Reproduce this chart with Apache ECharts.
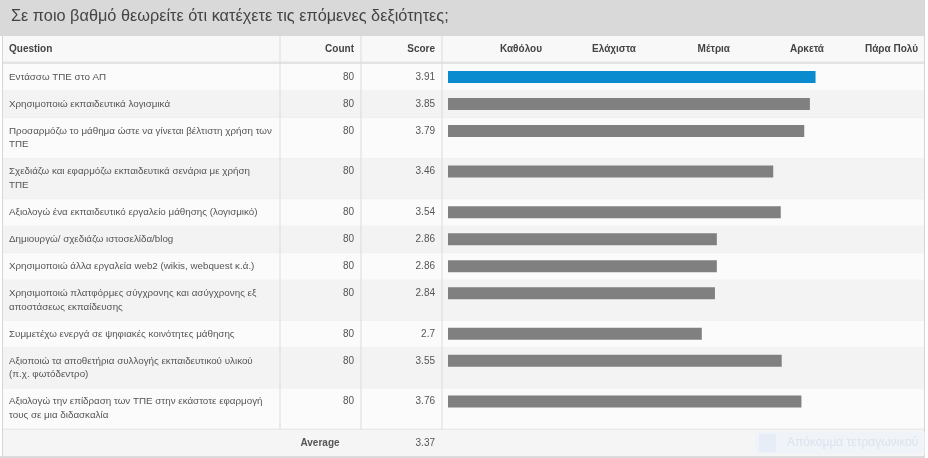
<!DOCTYPE html>
<html>
<head>
<meta charset="utf-8">
<script src="https://cdn.jsdelivr.net/npm/echarts@6/dist/echarts.min.js"></script>
<style>html,body{margin:0;padding:0;background:#fff}#c{width:928px;height:458px}</style>
</head>
<body>
<div id="c"></div>
<script>
var titleText = 'Σε ποιο βαθμό θεωρείτε ότι κατέχετε τις επόμενες δεξιότητες;';
var headers = ['Question', 'Count', 'Score'];
var scaleLabels = ['Καθόλου', 'Ελάχιστα', 'Μέτρια', 'Αρκετά', 'Πάρα Πολύ'];
var questions = [
  'Εντάσσω ΤΠΕ στο ΑΠ',
  'Χρησιμοποιώ εκπαιδευτικά λογισμικά',
  'Προσαρμόζω το μάθημα ώστε να γίνεται βέλτιστη χρήση των\nΤΠΕ',
  'Σχεδιάζω και εφαρμόζω εκπαιδευτικά σενάρια με χρήση\nΤΠΕ',
  'Αξιολογώ ένα εκπαιδευτικό εργαλείο μάθησης (λογισμικό)',
  'Δημιουργώ/ σχεδιάζω ιστοσελίδα/blog',
  'Χρησιμοποιώ άλλα εργαλεία web2 (wikis, webquest κ.ά.)',
  'Χρησιμοποιώ πλατφόρμες σύγχρονης και ασύγχρονης εξ\nαποστάσεως εκπαίδευσης',
  'Συμμετέχω ενεργά σε ψηφιακές κοινότητες μάθησης',
  'Αξιοποιώ τα αποθετήρια συλλογής εκπαιδευτικού υλικού\n(π.χ. φωτόδεντρο)',
  'Αξιολογώ την επίδραση των ΤΠΕ στην εκάστοτε εφαρμογή\nτους σε μια διδασκαλία'
];
var counts = [80, 80, 80, 80, 80, 80, 80, 80, 80, 80, 80];
var scores = [3.91, 3.85, 3.79, 3.46, 3.54, 2.86, 2.86, 2.84, 2.7, 3.55, 3.76];
var averageLabel = 'Average';
var averageScore = 3.37;
var watermark = 'Απόκομμα τετραγωνικού';

var FONT = '"Liberation Sans", Arial, sans-serif';
var TOP = 64, LINE = 13.6, PAD = 13.4;
var rowH = questions.map(function (q) { return PAD + LINE * q.split('\n').length; });
var rowTops = [];
var acc = 0;
rowH.forEach(function (h) { rowTops.push(acc); acc += h; });
var H = acc;
var tableBottom = TOP + H;

var chart = echarts.init(document.getElementById('c'), null, {renderer: 'canvas'});

function tableRow(params, api) {
  var i = params.dataIndex;
  var y0 = api.coord([0, rowTops[i]])[1];
  var y1 = api.coord([0, rowTops[i] + rowH[i]])[1];
  var lines = questions[i].split('\n');
  var children = [{
    type: 'rect', shape: {x: 3, y: y0, width: 921, height: y1 - y0},
    style: {fill: i % 2 === 0 ? '#fbfbfb' : '#f3f3f3'}
  }, {
    type: 'rect', shape: {x: 3, y: y1 - 0.5, width: 921, height: 1},
    style: {fill: '#ececec'}
  }];
  lines.forEach(function (ln, k) {
    children.push({
      type: 'text', x: 9, y: y0 + 13 + k * LINE,
      style: {text: ln, fill: '#555', font: '9.8px ' + FONT, verticalAlign: 'middle', align: 'left'}
    });
  });
  children.push({
    type: 'text', x: 354, y: y0 + 13,
    style: {text: String(counts[i]), fill: '#555', font: '10px ' + FONT, verticalAlign: 'middle', align: 'right'}
  });
  children.push({
    type: 'text', x: 435, y: y0 + 13,
    style: {text: String(scores[i]), fill: '#555', font: '10px ' + FONT, verticalAlign: 'middle', align: 'right'}
  });
  return {type: 'group', children: children};
}

function barItem(params, api) {
  var v = api.value(0), yc = api.value(1);
  var s = api.coord([0, yc]);
  var e = api.coord([v, yc]);
  return {
    type: 'rect',
    shape: {x: s[0], y: s[1] - 6, width: e[0] - s[0], height: 12},
    style: {fill: params.dataIndex === 0 ? '#0b8bcf' : '#808080'}
  };
}

var graphics = [
  {type: 'rect', shape: {x: 0, y: 0, width: 925, height: 36}, style: {fill: '#d9d9d9'}, z: 0},
  {type: 'text', x: 11, y: 17, style: {text: titleText, fill: '#444', font: '16.3px ' + FONT, verticalAlign: 'middle'}},
  {type: 'rect', shape: {x: 3, y: 36, width: 921, height: 26}, style: {fill: '#f8f8f8'}},
  {type: 'rect', shape: {x: 3, y: 61.5, width: 921, height: 2.5}, style: {fill: '#e3e3e3'}},
  {type: 'text', x: 9, y: 49, style: {text: headers[0], fill: '#444', font: 'bold 10px ' + FONT, verticalAlign: 'middle'}},
  {type: 'text', x: 354, y: 49, style: {text: headers[1], fill: '#444', font: 'bold 10px ' + FONT, verticalAlign: 'middle', align: 'right'}},
  {type: 'text', x: 435, y: 49, style: {text: headers[2], fill: '#444', font: 'bold 10px ' + FONT, verticalAlign: 'middle', align: 'right'}},
  {type: 'rect', shape: {x: 2, y: 36, width: 1, height: 422}, style: {fill: '#d6d6d6'}},
  {type: 'rect', shape: {x: 924, y: 0, width: 1, height: 458}, style: {fill: '#d6d6d6'}},
  {type: 'rect', shape: {x: 3, y: tableBottom, width: 921, height: 27}, style: {fill: '#f5f5f5'}},
  {type: 'rect', shape: {x: 3, y: tableBottom - 0.5, width: 921, height: 1}, style: {fill: '#dcdcdc'}},
  {type: 'rect', shape: {x: 0, y: tableBottom + 27, width: 925, height: 3}, style: {fill: '#dadada'}},
  {type: 'text', x: 320, y: tableBottom + 14, style: {text: averageLabel, fill: '#555', font: 'bold 10px ' + FONT, verticalAlign: 'middle', align: 'center'}},
  {type: 'text', x: 435, y: tableBottom + 14, style: {text: String(averageScore), fill: '#555', font: '10px ' + FONT, verticalAlign: 'middle', align: 'right'}},
  {type: 'rect', shape: {x: 755, y: 432, width: 170, height: 22}, style: {fill: '#edf2f9', opacity: 0.6}, z: 50},
  {type: 'rect', shape: {x: 759, y: 434, width: 17, height: 18}, style: {fill: '#e3eaf5', opacity: 0.7}, z: 51},
  {type: 'text', x: 787, y: 443, style: {text: watermark, fill: '#dae3ef', font: '12px ' + FONT, verticalAlign: 'middle'}, z: 51}
];
[280, 361, 442].forEach(function (x) {
  graphics.push({type: 'rect', shape: {x: x - 0.5, y: 36, width: 1, height: tableBottom - 36}, style: {fill: '#dcdcdc'}, z: 40});
});

chart.setOption({
  animation: false,
  backgroundColor: '#fff',
  grid: {left: 448, right: 10, top: TOP, height: H, outerBoundsMode: 'none', containLabel: false},
  xAxis: {
    type: 'value', min: 0, max: 5, interval: 1, position: 'top',
    axisLine: {show: false}, axisTick: {show: false}, splitLine: {show: false},
    axisLabel: {
      show: true, align: 'right', margin: 15, showMinLabel: false, showMaxLabel: true,
      color: '#444', fontWeight: 'bold', fontSize: 10, fontFamily: FONT, verticalAlign: 'middle',
      formatter: function (v) { return v >= 1 ? scaleLabels[Math.round(v) - 1] : ''; }
    },
    z: 60
  },
  yAxis: {type: 'value', inverse: true, min: 0, max: H, show: false},
  graphic: {elements: graphics},
  series: [{
    type: 'custom', name: 'table', clip: false, z: 1,
    renderItem: tableRow,
    data: rowTops.map(function (t) { return [0, t]; }),
    encode: {x: 0, y: 1}, silent: true
  }, {
    type: 'custom', name: 'score', clip: false, z: 10,
    renderItem: barItem,
    data: scores.map(function (s, i) { return [s, rowTops[i] + 13]; }),
    encode: {x: 0, y: 1}
  }]
});
</script>
</body>
</html>
